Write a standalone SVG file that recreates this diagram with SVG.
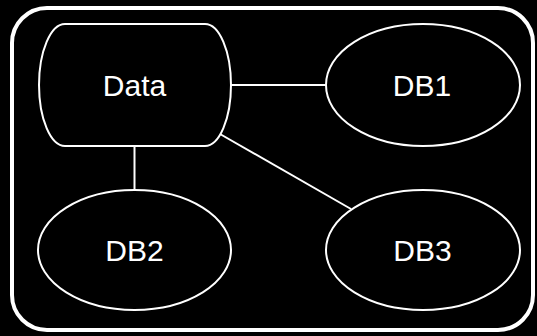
<svg xmlns="http://www.w3.org/2000/svg" width="537" height="336" viewBox="0 0 537 336">
<style>
.node{fill:#000;stroke:#fff;stroke-width:2}
.lbl{fill:#fff;font-family:"Liberation Sans",Arial,sans-serif;font-size:30px;text-anchor:middle}
.edge{stroke:#fff;stroke-width:2;fill:none}
</style>
<rect x="0" y="0" width="537" height="336" fill="#000"/>
<rect id="frame" x="12" y="8" width="521" height="322" rx="35" ry="35" fill="#000" stroke="#fff" stroke-width="4"/>
<g id="connectors">
<line class="edge" x1="231" y1="85" x2="326" y2="85"/>
<line class="edge" x1="134.5" y1="146" x2="134.5" y2="190"/>
<line class="edge" x1="220" y1="134" x2="351" y2="209"/>
</g>
<g id="data">
<path class="node" d="M65,24 H205 A26,61 0 0 1 205,146 H65 A26,61 0 0 1 65,24 Z"/>
<text class="lbl" x="134.5" y="96">Data</text>
</g>
<g id="db1">
<ellipse class="node" cx="423" cy="85" rx="97" ry="61"/>
<text class="lbl" x="422" y="96">DB1</text>
</g>
<g id="db2">
<ellipse class="node" cx="134.5" cy="250" rx="96.5" ry="60"/>
<text class="lbl" x="134.5" y="260.5">DB2</text>
</g>
<g id="db3">
<ellipse class="node" cx="423" cy="250" rx="97" ry="60"/>
<text class="lbl" x="422.5" y="260.5">DB3</text>
</g>
</svg>
